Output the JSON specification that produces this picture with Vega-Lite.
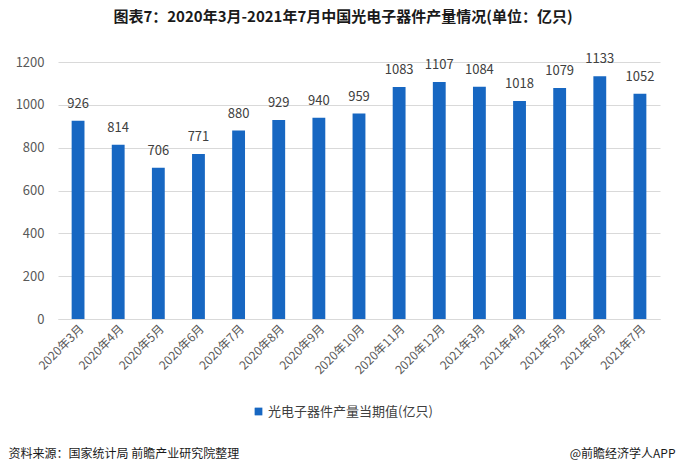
{
  "$schema": "https://vega.github.io/schema/vega-lite/v6.json",
  "autosize": {"type": "none"},
  "width": 602,
  "height": 257,
  "padding": {"left": 58, "top": 62, "right": 23, "bottom": 154},
  "background": "white",
  "config": {
    "font": "Noto Sans CJK SC",
    "view": {"stroke": null}
  },
  "title": {
    "text": "图表7：2020年3月-2021年7月中国光电子器件产量情况(单位：亿只)",
    "font": "Noto Sans CJK SC",
    "fontSize": 15,
    "fontWeight": "bold",
    "color": "#1a1a1a",
    "anchor": "middle",
    "frame": "group",
    "dx": -16,
    "offset": 28
  },
  "data": {
    "values": [
      {"month": "2020年3月", "value": 926, "series": "光电子器件产量当期值(亿只)"},
      {"month": "2020年4月", "value": 814, "series": "光电子器件产量当期值(亿只)"},
      {"month": "2020年5月", "value": 706, "series": "光电子器件产量当期值(亿只)"},
      {"month": "2020年6月", "value": 771, "series": "光电子器件产量当期值(亿只)"},
      {"month": "2020年7月", "value": 880, "series": "光电子器件产量当期值(亿只)"},
      {"month": "2020年8月", "value": 929, "series": "光电子器件产量当期值(亿只)"},
      {"month": "2020年9月", "value": 940, "series": "光电子器件产量当期值(亿只)"},
      {"month": "2020年10月", "value": 959, "series": "光电子器件产量当期值(亿只)"},
      {"month": "2020年11月", "value": 1083, "series": "光电子器件产量当期值(亿只)"},
      {"month": "2020年12月", "value": 1107, "series": "光电子器件产量当期值(亿只)"},
      {"month": "2021年3月", "value": 1084, "series": "光电子器件产量当期值(亿只)"},
      {"month": "2021年4月", "value": 1018, "series": "光电子器件产量当期值(亿只)"},
      {"month": "2021年5月", "value": 1079, "series": "光电子器件产量当期值(亿只)"},
      {"month": "2021年6月", "value": 1133, "series": "光电子器件产量当期值(亿只)"},
      {"month": "2021年7月", "value": 1052, "series": "光电子器件产量当期值(亿只)"}
    ]
  },
  "encoding": {
    "x": {
      "field": "month",
      "type": "ordinal",
      "sort": null,
      "scale": {"paddingInner": 0.68, "paddingOuter": 0.34},
      "axis": {
        "title": "资料来源：国家统计局 前瞻产业研究院整理",
        "titleFont": "Noto Sans CJK SC",
        "titleFontSize": 12,
        "titleFontWeight": "normal",
        "titleColor": "#1a1a1a",
        "titleAnchor": "start",
        "titleAlign": "left",
        "titleBaseline": "alphabetic",
        "titleX": -50,
        "titleY": 138,
        "labelAngle": -45,
        "labelFontSize": 12,
        "labelColor": "#595959",
        "labelPadding": 4,
        "ticks": false,
        "domainColor": "#d9d9d9",
        "grid": false
      }
    },
    "y": {
      "field": "value",
      "type": "quantitative",
      "scale": {"domain": [0, 1200]},
      "axis": {
        "values": [0, 200, 400, 600, 800, 1000, 1200],
        "format": "d",
        "title": "@前瞻经济学人APP",
        "titleFont": "Noto Sans CJK SC",
        "titleFontSize": 12,
        "titleFontWeight": "normal",
        "titleColor": "#1a1a1a",
        "titleAngle": 0,
        "titleAlign": "right",
        "titleBaseline": "alphabetic",
        "titleX": 617,
        "titleY": 395,
        "labelFontSize": 13,
        "labelColor": "#595959",
        "labelPadding": 14,
        "ticks": false,
        "domain": false,
        "gridColor": "#d9d9d9",
        "gridWidth": 1
      }
    }
  },
  "layer": [
    {
      "mark": {"type": "bar"},
      "encoding": {
        "color": {
          "field": "series",
          "type": "nominal",
          "scale": {"range": ["#1767c2"]},
          "legend": {
            "title": null,
            "orient": "none",
            "legendX": 194,
            "legendY": 343,
            "symbolType": "square",
            "symbolSize": 60,
            "labelFontSize": 13,
            "labelColor": "#404040",
            "labelOffset": 3,
            "labelLimit": 0
          }
        }
      }
    },
    {
      "mark": {"type": "text", "dy": -10, "fontSize": 13, "color": "#404040", "baseline": "bottom"},
      "encoding": {"text": {"field": "value", "type": "quantitative", "format": "d"}}
    }
  ]
}
